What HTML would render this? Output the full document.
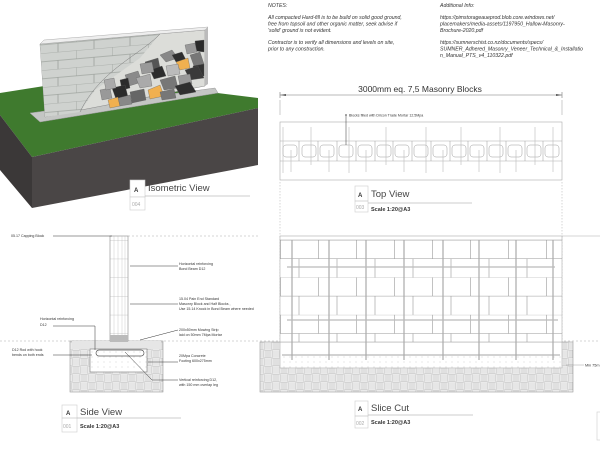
<!DOCTYPE html>
<html><head><meta charset="utf-8"><style>
html,body{margin:0;padding:0;background:#fff}
svg{display:block}
text{font-family:"Liberation Sans",sans-serif;fill:#333}
</style></head><body>
<svg width="600" height="451" viewBox="0 0 600 451" xmlns="http://www.w3.org/2000/svg">
<defs>
<pattern id="blk" x="280" y="240" width="38" height="37.4" patternUnits="userSpaceOnUse">
<path d="M0 0H38M0 18.7H38M0.5 0V18.7M19 18.7V37.4" stroke="#999" stroke-width="0.6" fill="none"/>
</pattern>
<pattern id="sblk" x="110" y="240" width="18" height="18.7" patternUnits="userSpaceOnUse">
<path d="M0 0H18" stroke="#999" stroke-width="0.6"/>
</pattern>
<pattern id="hatch" x="0" y="342" width="16" height="16" patternUnits="userSpaceOnUse">
<path d="M2 0V8M4 0V8M6 0V8M8 2H16M8 4H16M8 6H16M0 10H8M0 12H8M0 14H8M10 8V16M12 8V16M14 8V16" stroke="#999" stroke-width="0.6"/>
<path d="M0 0H16V16H0Z M8 0V16 M0 8H16" stroke="#aaa" stroke-width="0.5" fill="none"/>
</pattern>
<pattern id="dots" width="6" height="5" patternUnits="userSpaceOnUse">
<circle cx="2" cy="2" r="0.4" fill="#999"/>
</pattern>
<pattern id="iso" x="40" y="40" width="36" height="17" patternUnits="userSpaceOnUse" patternTransform="skewY(-5)">
<path d="M0 0H36M0 8.5H36M0 0V8.5M18 8.5V17" stroke="#8a8f8a" stroke-width="0.6" fill="none"/>
</pattern>
</defs>

<!-- ISOMETRIC -->
<polygon points="0,93 95,78 258,98 258,108 32,157 0,115" fill="#3f7a2e"/>
<polygon points="0,115 32,157 32,208 0,170" fill="#3b3838"/>
<polygon points="32,157 258,108 258,165 32,208" fill="#4a4646"/>
<polygon points="30,113 215,88 218,93 40,122" fill="#c4c6c4" stroke="#999" stroke-width="0.5"/>
<polygon points="40,44 205,30 205,86 45,117" fill="#dcddd9" stroke="#888" stroke-width="0.5"/>
<polygon points="40,44 160,34 140,58 95,90 80,112 45,117" fill="#cfd2cf"/>
<polygon points="40,44 160,34 140,58 95,90 80,112 45,117" fill="url(#iso)"/>
<path d="M160,34 C140,55 100,70 80,112" stroke="#777" stroke-width="0.5" fill="none"/>
<polygon points="40,44 44,40 208,27 205,30" fill="#eee" stroke="#999" stroke-width="0.4"/>
<polygon points="205,30 208,27 208,84 205,86" fill="#bbb"/>
<g stroke="#555" stroke-width="0.3">
<polygon points="195,41 204,40 204,52 196,51" fill="#2a2a2a"/>
<polygon points="185,45 195,43 197,52 187,54" fill="#999"/>
<polygon points="160,55 172,50 178,58 166,62" fill="#888"/>
<polygon points="172,55 182,52 186,60 176,62" fill="#2e2e2e"/>
<polygon points="176,62 188,58 190,68 180,70" fill="#f0b050"/>
<polygon points="190,55 200,52 204,64 194,66" fill="#777"/>
<polygon points="193,66 204,64 204,76 195,78" fill="#333"/>
<polygon points="185,70 198,66 204,78 190,80" fill="#3a3a3a"/>
<polygon points="145,62 158,58 160,68 148,70" fill="#555"/>
<polygon points="150,70 162,66 166,76 154,79" fill="#2d2d2d"/>
<polygon points="140,64 152,62 154,72 142,74" fill="#999"/>
<polygon points="166,66 178,64 180,74 168,76" fill="#bbb"/>
<polygon points="125,75 138,71 142,82 129,86" fill="#8a8a8a"/>
<polygon points="136,78 150,74 152,86 140,88" fill="#aaa"/>
<polygon points="120,80 128,78 130,88 122,90" fill="#2b2b2b"/>
<polygon points="112,88 125,85 128,97 116,99" fill="#2b2b2b"/>
<polygon points="148,90 160,85 164,96 150,99" fill="#f0b050"/>
<polygon points="160,80 175,76 178,88 164,90" fill="#777"/>
<polygon points="178,76 190,74 192,84 180,86" fill="#999"/>
<polygon points="108,100 118,97 120,106 110,108" fill="#f0b050"/>
<polygon points="175,86 190,82 196,92 180,95" fill="#2f2f2f"/>
<polygon points="130,92 144,89 146,100 132,103" fill="#666"/>
<polygon points="118,98 130,95 132,104 120,106" fill="#888"/>
<polygon points="100,90 110,88 112,98 102,100" fill="#999"/>
<polygon points="160,92 174,89 176,98 162,100" fill="#777"/>
<polygon points="104,80 114,78 116,88 106,90" fill="#aaa"/>
</g>
<rect x="130" y="180" width="15" height="17" fill="#fff" stroke="#ccc" stroke-width="0.6"/>
<rect x="130" y="197" width="15" height="13" fill="#fff" stroke="#ccc" stroke-width="0.6"/>
<text x="134" y="192" font-size="6" font-weight="bold">A</text>
<text x="132" y="206" font-size="5" style="fill:#aaa">004</text>
<text x="148" y="191" font-size="9.5" style="fill:#444">Isometric View</text>
<line x1="145" y1="196" x2="250" y2="196" stroke="#bbb" stroke-width="0.7"/>

<!-- NOTES -->
<g font-size="5.2" font-style="italic">
<text x="268" y="7">NOTES:</text>
<text x="268" y="19">All compacted Hard-fill is to be build on solid good ground,</text>
<text x="268" y="25.5">free from topsoil and other organic matter, seek advise if</text>
<text x="268" y="32">'solid' ground is not evident.</text>
<text x="268" y="44">Contractor is to verify all dimensions and levels on site,</text>
<text x="268" y="50.5">prior to any construction.</text>
<text x="440" y="7">Additional Info:</text>
<text x="440" y="19">https://pimstorageaueprod.blob.core.windows.net/</text>
<text x="440" y="25.5">placemakers/media-assets/1197950_Hallow-Masonry-</text>
<text x="440" y="32">Brochure-2020.pdf</text>
<text x="440" y="44">https://sumnerschist.co.nz/documents/specs/</text>
<text x="440" y="50.5">SUMNER_Adhered_Masonry_Veneer_Technical_&amp;_Installatio</text>
<text x="440" y="57">n_Manual_PTS_v4_110322.pdf</text>
</g>

<!-- TOP VIEW -->
<text x="420" y="92" font-size="8.5" text-anchor="middle" style="fill:#333">3000mm eq. 7,5 Masonry Blocks</text>
<line x1="280" y1="95" x2="562" y2="95" stroke="#777" stroke-width="0.6"/>
<path d="M280 92V98M562 92V98" stroke="#777" stroke-width="0.6"/>
<path d="M280 95l6-1v2zM562 95l-6-1v2z" fill="#555"/>
<path d="M280 100V115M562 100V115" stroke="#aaa" stroke-width="0.6"/>
<rect x="280" y="122" width="282" height="58" fill="none" stroke="#aaa" stroke-width="0.6"/>
<path d="M280 141H562M280 161H562" stroke="#aaa" stroke-width="0.6"/>
<g fill="none" stroke="#999" stroke-width="0.5">
<rect x="283" y="145" width="14" height="12" rx="3"/><rect x="302" y="145" width="14" height="12" rx="3"/>
<rect x="320" y="145" width="14" height="12" rx="3"/><rect x="339" y="145" width="14" height="12" rx="3"/>
<rect x="358" y="145" width="14" height="12" rx="3"/><rect x="377" y="145" width="14" height="12" rx="3"/>
<rect x="395" y="145" width="14" height="12" rx="3"/><rect x="414" y="145" width="14" height="12" rx="3"/>
<rect x="433" y="145" width="14" height="12" rx="3"/><rect x="452" y="145" width="14" height="12" rx="3"/>
<rect x="470" y="145" width="14" height="12" rx="3"/><rect x="489" y="145" width="14" height="12" rx="3"/>
<rect x="508" y="145" width="14" height="12" rx="3"/><rect x="527" y="145" width="14" height="12" rx="3"/>
<rect x="545" y="145" width="14" height="12" rx="3"/>
<path d="M299 141V161M318 141V161M337 141V161M356 141V161M375 141V161M393 141V161M412 141V161M431 141V161M450 141V161M468 141V161M487 141V161M506 141V161M525 141V161M543 141V161"/>
</g>
<path d="M283 127V173M291 150V172M311 127V165M329 150V172M349 127V173M366 150V172M386 127V165M404 150V172M426 127V173M443 150V172M461 127V165M479 150V172M500 127V173M516 150V172M535 127V165M553 150V172M553 127V150" stroke="#bbb" stroke-width="0.6"/>
<line x1="346" y1="116" x2="346" y2="145" stroke="#333" stroke-width="0.5"/>
<circle cx="346" cy="115" r="0.8" fill="#333"/>
<text x="349" y="116.5" font-size="3.6">Blocks filled with Dricon Trade Mortar 12.5Mpa</text>
<path d="M280 182V342M562 182V342" stroke="#bbb" stroke-width="0.6" stroke-dasharray="1.5,1.5"/>
<rect x="355" y="186" width="13" height="15" fill="none" stroke="#ccc" stroke-width="0.6"/>
<rect x="355" y="201" width="13" height="11" fill="none" stroke="#ccc" stroke-width="0.6"/>
<text x="358" y="197" font-size="6" font-weight="bold">A</text>
<text x="356" y="209" font-size="5" style="fill:#aaa">003</text>
<text x="371" y="197" font-size="9.5" style="fill:#444">Top View</text>
<line x1="368" y1="203" x2="472" y2="203" stroke="#bbb" stroke-width="0.7"/>
<text x="371" y="211" font-size="5.5" font-weight="bold">Scale 1:20@A3</text>

<!-- SIDE VIEW -->
<path d="M128 236H260M0 341H600" stroke="#aaa" stroke-width="0.6" stroke-dasharray="2,2"/>
<rect x="70" y="341" width="93" height="51" fill="url(#hatch)" stroke="#999" stroke-width="0.6"/>
<rect x="72" y="341" width="89" height="8" fill="#e6e6e6"/>
<rect x="90" y="349" width="57" height="23" fill="#fff" stroke="#777" stroke-width="0.6"/>
<rect x="90" y="349" width="57" height="23" fill="url(#dots)"/>
<rect x="110" y="236" width="18" height="105" fill="#fff" stroke="#888" stroke-width="0.6"/>
<rect x="110" y="240" width="18" height="101" fill="url(#sblk)"/>
<path d="M114 236V341M118 236V341M122 236V341M125 236V341" stroke="#bbb" stroke-width="0.4"/>
<rect x="110" y="335" width="18" height="7" fill="#bbb"/>
<rect x="96" y="350" width="48" height="6" rx="3" fill="none" stroke="#555" stroke-width="0.7"/>
<g stroke="#333" stroke-width="0.5" fill="none">
<path d="M53 236H112"/><path d="M130 266H178"/><path d="M130 304H178"/><path d="M53 326H95V350"/>
<path d="M53 355H92"/><path d="M140 340L178 330"/><path d="M148 362H178"/><path d="M125 352L152 380H178"/>
</g>
<g font-size="3.6">
<text x="11" y="237">05.17 Capping Block</text>
<text x="179" y="265">Horizontal reinforcing</text><text x="179" y="270">Bond Beam D12</text>
<text x="179" y="300">15.04 Pain End Standard</text><text x="179" y="305">Masonry Block and Half Blocks ,</text><text x="179" y="310">Use 15.14 Knock in Bond Beam where needed</text>
<text x="40" y="320">Horizontal reinforcing</text><text x="40" y="326">D12</text>
<text x="179" y="331">200x50mm Mowing Strip</text><text x="179" y="336">laid on 50mm 7Mpa Mortar</text>
<text x="12" y="351">D12 Rod with hook</text><text x="12" y="356">bends on both ends</text>
<text x="179" y="357">20Mpa Concrete</text><text x="179" y="362">Footing 600x275mm</text>
<text x="179" y="381">Vertical reinforcing D12,</text><text x="179" y="386">with 150 mm overlap leg</text>
</g>
<rect x="62" y="405" width="15" height="13" fill="none" stroke="#ccc" stroke-width="0.6"/>
<rect x="62" y="418" width="15" height="14" fill="none" stroke="#ccc" stroke-width="0.6"/>
<text x="66" y="415" font-size="6" font-weight="bold">A</text>
<text x="63" y="428" font-size="5" style="fill:#aaa">001</text>
<text x="80" y="415" font-size="9.5" style="fill:#444">Side View</text>
<line x1="77" y1="418" x2="181" y2="418" stroke="#bbb" stroke-width="0.7"/>
<text x="80" y="428" font-size="5.5" font-weight="bold">Scale 1:20@A3</text>

<!-- SLICE CUT -->
<rect x="260" y="342" width="313" height="50" fill="url(#hatch)" stroke="#999" stroke-width="0.6"/>
<rect x="280" y="342" width="282" height="26" fill="#fff" stroke="#aaa" stroke-width="0.6"/>
<rect x="280" y="355" width="282" height="13" fill="url(#dots)"/>
<line x1="282" y1="355" x2="560" y2="355" stroke="#888" stroke-width="0.8"/>
<rect x="280" y="236" width="282" height="106" fill="#fff" stroke="#aaa" stroke-width="0.6"/>
<rect x="280" y="240" width="282" height="102" fill="url(#blk)"/>
<path d="M280 240H562" stroke="#999" stroke-width="0.6"/>
<path d="M292 240V360M329 240V360M366 240V360M404 240V360M443 240V360M479 240V360M516 240V360M553 240V360" stroke="#aaa" stroke-width="1.2"/>
<path d="M287 267H555M287 320H558" stroke="#bbb" stroke-width="1.3"/>
<path d="M562 236H600" stroke="#aaa" stroke-width="0.6"/>
<path d="M566 365H584" stroke="#888" stroke-width="0.4"/>
<text x="585" y="366.5" font-size="3.8">Min 75m</text>
<rect x="355" y="401" width="13" height="15" fill="none" stroke="#ccc" stroke-width="0.6"/>
<rect x="355" y="416" width="13" height="12" fill="none" stroke="#ccc" stroke-width="0.6"/>
<text x="358" y="411" font-size="6" font-weight="bold">A</text>
<text x="356" y="425" font-size="5" style="fill:#aaa">002</text>
<text x="371" y="411" font-size="9.5" style="fill:#444">Slice Cut</text>
<line x1="368" y1="415" x2="473" y2="415" stroke="#bbb" stroke-width="0.7"/>
<text x="371" y="424" font-size="5.5" font-weight="bold">Scale 1:20@A3</text>
<rect x="597" y="412" width="6" height="28" fill="none" stroke="#ccc" stroke-width="0.6"/>
</svg>
</body></html>
